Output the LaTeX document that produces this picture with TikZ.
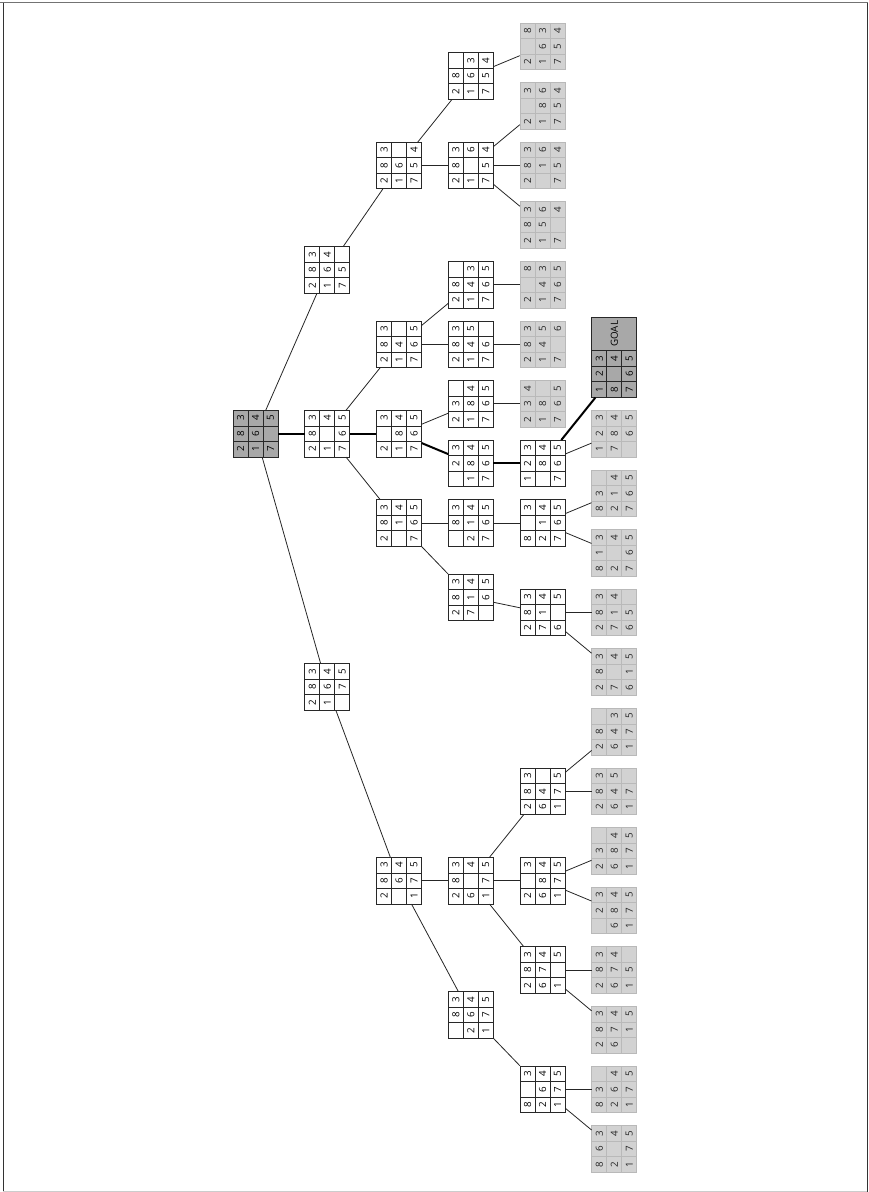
\documentclass[tikz,border=0pt]{standalone}
\usepackage{fontspec}
\setmainfont{Open Sans}
\usepackage{graphicx}
\definecolor{boxline}{RGB}{40, 40, 40}
\definecolor{leaffill}{RGB}{210, 210, 210}
\definecolor{leafline}{RGB}{185, 185, 185}
\definecolor{pathfill}{RGB}{168, 168, 168}
\usetikzlibrary{calc, positioning}

% one 8-puzzle board: name, depth, slot, cell style, entries row by row
\newcommand{\puzzle}[5]{%
  \node[puzbox] (#1) at ({255.5+71.75*#2},{46.25+59.6*#3}) {};
  \foreach \v [count=\i from 0] in {#5} {
    \pgfmathtruncatemacro{\pr}{div(\i,3)}
    \pgfmathtruncatemacro{\pc}{mod(\i,3)}
    \node[cell, #4] at ($(#1)+({(\pr-1)*15},{(1-\pc)*15.5})$) {\rotatebox{90}{\v}};
  }
}

\begin{document}
\begin{tikzpicture}[
        x=1pt, y=-1pt,
        font=\fontsize{9.8}{10}\selectfont,
        puzbox/.style={minimum width=45pt, minimum height=46.5pt, inner sep=0pt},
        cell/.style={draw=boxline, fill=white, line width=0.8pt,
                     minimum width=15pt, minimum height=15.5pt, inner sep=0pt},
        leaf/.style={draw=leafline, fill=leaffill, text=black!85},
        start/.style={fill=pathfill},
        goaltag/.style={draw=boxline, fill=pathfill, line width=0.8pt,
                        minimum width=45pt, minimum height=32.7pt, inner sep=0pt},
        edge/.style={line width=0.8pt, black!85},
        best/.style={line width=2pt, black}
    ]
        \useasboundingbox (0,0) rectangle (868,1192);

        % page frame
        \draw[line width=1.3pt, black!55] (0,2.7) -- (868,2.7);
        \draw[line width=1pt, black!80] (3,2.7) -- (3,1192);
        \draw[line width=1pt, black!80] (867,2.7) -- (867,1192);
        \draw[line width=1pt, black!20] (3,1191) -- (867,1191);

        % start state
        \puzzle{n0}{0}{6.5}{start}{2,8,3,1,6,4,7,{},5}

        % depth 1
        \puzzle{nA}{1}{3.75}{}{2,8,3,1,6,4,7,5,{}}
        \puzzle{nB}{1}{6.5}{}{2,8,3,1,{},4,7,6,5}
        \puzzle{nC}{1}{10.75}{}{2,8,3,1,6,4,{},7,5}

        % depth 2
        \puzzle{nA1}{2}{2}{}{2,8,3,1,6,{},7,5,4}
        \puzzle{nB1}{2}{5}{}{2,8,3,1,4,{},7,6,5}
        \puzzle{nB2}{2}{6.5}{}{2,{},3,1,8,4,7,6,5}
        \puzzle{nB3}{2}{8}{}{2,8,3,{},1,4,7,6,5}
        \puzzle{nC1}{2}{14}{}{2,8,3,{},6,4,1,7,5}

        % depth 3
        \puzzle{nA11}{3}{0.5}{}{2,8,{},1,6,3,7,5,4}
        \puzzle{nA12}{3}{2}{}{2,8,3,1,{},6,7,5,4}
        \puzzle{nB11}{3}{4}{}{2,8,{},1,4,3,7,6,5}
        \puzzle{nB12}{3}{5}{}{2,8,3,1,4,5,7,6,{}}
        \puzzle{nB21}{3}{6}{}{2,3,{},1,8,4,7,6,5}
        \puzzle{nB22}{3}{7}{}{{},2,3,1,8,4,7,6,5}
        \puzzle{nB31}{3}{8}{}{{},8,3,2,1,4,7,6,5}
        \puzzle{nB32}{3}{9.25}{}{2,8,3,7,1,4,{},6,5}
        \puzzle{nC11}{3}{14}{}{2,8,3,6,{},4,1,7,5}
        \puzzle{nC12}{3}{16.25}{}{{},8,3,2,6,4,1,7,5}

        % depth 4
        \puzzle{lA111}{4}{0}{leaf}{2,{},8,1,6,3,7,5,4}
        \puzzle{lA121}{4}{1}{leaf}{2,{},3,1,8,6,7,5,4}
        \puzzle{lA122}{4}{2}{leaf}{2,8,3,{},1,6,7,5,4}
        \puzzle{lA123}{4}{3}{leaf}{2,8,3,1,5,6,7,{},4}
        \puzzle{lB111}{4}{4}{leaf}{2,{},8,1,4,3,7,6,5}
        \puzzle{lB121}{4}{5}{leaf}{2,8,3,1,4,5,7,{},6}
        \puzzle{lB211}{4}{6}{leaf}{2,3,4,1,8,{},7,6,5}
        \puzzle{nB221}{4}{7}{}{1,2,3,{},8,4,7,6,5}
        \puzzle{nB311}{4}{8}{}{8,{},3,2,1,4,7,6,5}
        \puzzle{nB321}{4}{9.5}{}{2,8,3,7,1,4,6,{},5}
        \puzzle{nC111}{4}{12.5}{}{2,8,3,6,4,{},1,7,5}
        \puzzle{nC112}{4}{14}{}{2,{},3,6,8,4,1,7,5}
        \puzzle{nC113}{4}{15.5}{}{2,8,3,6,7,4,1,{},5}
        \puzzle{nC121}{4}{17.5}{}{8,{},3,2,6,4,1,7,5}

        % depth 5
        \puzzle{goal}{5}{5.5}{start}{1,2,3,8,{},4,7,6,5}
        \node[goaltag, above=0pt of goal] (goaltext) {\rotatebox{90}{GOAL}};
        \puzzle{lB2212}{5}{6.5}{leaf}{1,2,3,7,8,4,{},6,5}
        \puzzle{lB3111}{5}{7.5}{leaf}{8,3,{},2,1,4,7,6,5}
        \puzzle{lB3112}{5}{8.5}{leaf}{8,1,3,2,{},4,7,6,5}
        \puzzle{lB3211}{5}{9.5}{leaf}{2,8,3,7,1,4,6,5,{}}
        \puzzle{lB3212}{5}{10.5}{leaf}{2,8,3,7,{},4,6,1,5}
        \puzzle{lC1111}{5}{11.5}{leaf}{2,8,{},6,4,3,1,7,5}
        \puzzle{lC1112}{5}{12.5}{leaf}{2,8,3,6,4,5,1,7,{}}
        \puzzle{lC1121}{5}{13.5}{leaf}{2,3,{},6,8,4,1,7,5}
        \puzzle{lC1122}{5}{14.5}{leaf}{{},2,3,6,8,4,1,7,5}
        \puzzle{lC1131}{5}{15.5}{leaf}{2,8,3,6,7,4,1,5,{}}
        \puzzle{lC1132}{5}{16.5}{leaf}{2,8,3,6,7,4,{},1,5}
        \puzzle{lC1211}{5}{17.5}{leaf}{8,3,{},2,6,4,1,7,5}
        \puzzle{lC1212}{5}{18.5}{leaf}{8,6,3,2,{},4,1,7,5}

        % tree edges
        \foreach \a/\b in {n0/nA, n0/nC, nA/nA1, nB/nB1, nB/nB3, nC/nC1,
                           nA1/nA11, nA1/nA12, nB1/nB11, nB1/nB12, nB2/nB21,
                           nB3/nB31, nB3/nB32, nC1/nC11, nC1/nC12,
                           nA11/lA111, nA12/lA121, nA12/lA122, nA12/lA123,
                           nB11/lB111, nB12/lB121, nB21/lB211,
                           nB31/nB311, nB32/nB321, nC11/nC111, nC11/nC112,
                           nC11/nC113, nC12/nC121, nB221/lB2212,
                           nB311/lB3111, nB311/lB3112, nB321/lB3211, nB321/lB3212,
                           nC111/lC1111, nC111/lC1112, nC112/lC1121, nC112/lC1122,
                           nC113/lC1131, nC113/lC1132, nC121/lC1211, nC121/lC1212}
            \draw[edge] (\a) -- (\b);

        % solution path
        \foreach \a/\b in {n0/nB, nB/nB2, nB2/nB22, nB22/nB221, nB221/goal}
            \draw[best] (\a) -- (\b);
    \end{tikzpicture}
\end{document}
